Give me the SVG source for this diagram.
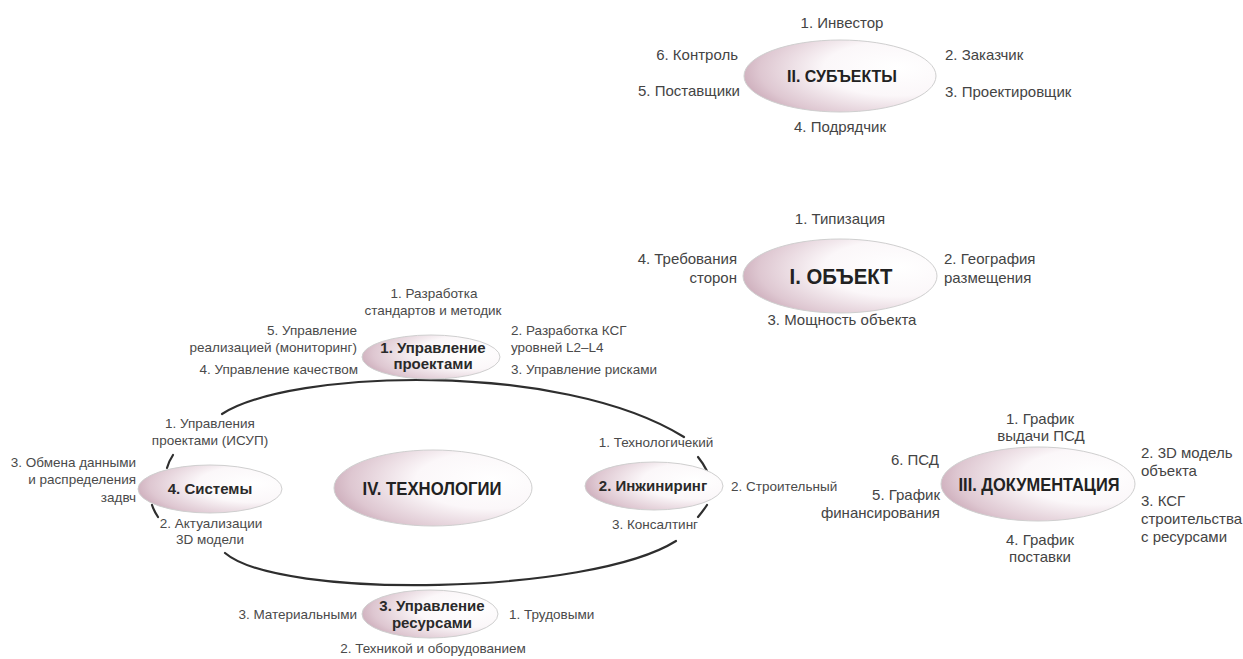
<svg xmlns="http://www.w3.org/2000/svg" width="1243" height="659" viewBox="0 0 1243 659">
<defs>
<radialGradient id="eg" cx="0.78" cy="0.42" r="0.9" fx="0.8" fy="0.38">
<stop offset="0" stop-color="#ffffff"/>
<stop offset="0.42" stop-color="#fbf7f9"/>
<stop offset="0.78" stop-color="#dec7d1"/>
<stop offset="1" stop-color="#bf98a9"/>
</radialGradient>
</defs>
<style>
.bg{fill:#ffffff}
.el{fill:url(#eg);stroke:#cfcfcf;stroke-width:1}
.lb{font-family:"Liberation Sans",Arial,sans-serif;font-size:15px;fill:#444444}
.ls{font-family:"Liberation Sans",Arial,sans-serif;font-size:13.5px;fill:#4a4a4a}
.tt{font-family:"Liberation Sans",Arial,sans-serif;font-weight:bold;fill:#222222}
.st{font-family:"Liberation Sans",Arial,sans-serif;font-weight:bold;font-size:15px;fill:#2a2a2a}
.m{text-anchor:middle}
.e{text-anchor:end}
.ring{fill:none;stroke:#2e2e2e;stroke-width:2.2;stroke-linecap:round}
</style>
<rect class="bg" x="0" y="0" width="1243" height="659"/>

<g id="connectors">
<path class="ring" d="M 222 414 C 290 370, 560 360, 684 437"/>
<path class="ring" d="M 698 457 Q 703 463, 707 471"/>
<path class="ring" d="M 707 505 Q 703 511, 698 517"/>
<path class="ring" d="M 676 541 C 590 595, 280 600, 225 553"/>
<path class="ring" d="M 158 517 Q 154 511, 152 505"/>
<path class="ring" d="M 167 468 Q 169 461, 173 455"/>
</g>

<g id="node-subjects">
<ellipse class="el" cx="840" cy="76" rx="96" ry="36"/>
<text class="tt m" x="842" y="82" font-size="17" textLength="110" lengthAdjust="spacingAndGlyphs">II. СУБЪЕКТЫ</text>
<text class="lb m" x="842" y="28">1. Инвестор</text>
<text class="lb" x="945" y="60">2. Заказчик</text>
<text class="lb" x="945" y="97">3. Проектировщик</text>
<text class="lb m" x="840" y="132">4. Подрядчик</text>
<text class="lb e" x="740" y="96">5. Поставщики</text>
<text class="lb e" x="738" y="60">6. Контроль</text>
</g>

<g id="node-object">
<ellipse class="el" cx="840" cy="276" rx="97" ry="37"/>
<text class="tt m" x="841" y="284" font-size="22" textLength="103" lengthAdjust="spacingAndGlyphs">I. ОБЪЕКТ</text>
<text class="lb m" x="840" y="224">1. Типизация</text>
<text class="lb" x="944" y="264">2. География</text>
<text class="lb" x="944" y="283">размещения</text>
<text class="lb m" x="842" y="325">3. Мощность объекта</text>
<text class="lb e" x="737" y="264">4. Требования</text>
<text class="lb e" x="737" y="283">сторон</text>
</g>

<g id="node-documentation">
<ellipse class="el" cx="1038" cy="484" rx="97" ry="37"/>
<text class="tt m" x="1039" y="491" font-size="18" textLength="161" lengthAdjust="spacingAndGlyphs">III. ДОКУМЕНТАЦИЯ</text>
<text class="lb m" x="1040" y="424">1. График</text>
<text class="lb m" x="1041" y="441">выдачи ПСД</text>
<text class="lb" x="1141" y="458">2. 3D модель</text>
<text class="lb" x="1141" y="476">объекта</text>
<text class="lb" x="1141" y="506">3. КСГ</text>
<text class="lb" x="1141" y="524">строительства</text>
<text class="lb" x="1141" y="542">с ресурсами</text>
<text class="lb m" x="1040" y="545">4. График</text>
<text class="lb m" x="1040" y="562">поставки</text>
<text class="lb e" x="940" y="500">5. График</text>
<text class="lb e" x="940" y="518">финансирования</text>
<text class="lb e" x="939" y="465">6. ПСД</text>
</g>

<g id="node-technologies">
<ellipse class="el" cx="433" cy="488" rx="99" ry="38"/>
<text class="tt m" x="432" y="495" font-size="18" textLength="139" lengthAdjust="spacingAndGlyphs">IV. ТЕХНОЛОГИИ</text>
</g>

<g id="node-project-management">
<ellipse class="el" cx="431" cy="357" rx="69" ry="22"/>
<text class="st m" x="433" y="353">1. Управление</text>
<text class="st m" x="433" y="369">проектами</text>
<text class="ls m" x="434" y="298">1. Разработка</text>
<text class="ls m" x="433" y="315">стандартов и методик</text>
<text class="ls" x="511" y="335">2. Разработка КСГ</text>
<text class="ls" x="511" y="352">уровней L2–L4</text>
<text class="ls" x="511" y="374">3. Управление рисками</text>
<text class="ls e" x="358" y="374">4. Управление качеством</text>
<text class="ls e" x="357" y="335">5. Управление</text>
<text class="ls e" x="357" y="352">реализацией (мониторинг)</text>
</g>

<g id="node-engineering">
<ellipse class="el" cx="654" cy="486" rx="69" ry="24"/>
<text class="st m" x="653" y="491">2. Инжиниринг</text>
<text class="ls m" x="656" y="447">1. Технологичекий</text>
<text class="ls" x="731" y="491">2. Строительный</text>
<text class="ls m" x="655" y="529">3. Консалтинг</text>
</g>

<g id="node-resources">
<ellipse class="el" cx="430" cy="614" rx="68" ry="24"/>
<text class="st m" x="432" y="611">3. Управление</text>
<text class="st m" x="432" y="628">ресурсами</text>
<text class="ls" x="509" y="619">1. Трудовыми</text>
<text class="ls m" x="433" y="653">2. Техникой и оборудованием</text>
<text class="ls e" x="357" y="619">3. Материальными</text>
</g>

<g id="node-systems">
<ellipse class="el" cx="210" cy="489" rx="72" ry="24"/>
<text class="st m" x="210" y="494">4. Системы</text>
<text class="ls m" x="210" y="428">1. Управления</text>
<text class="ls m" x="210" y="445">проектами (ИСУП)</text>
<text class="ls m" x="211" y="528">2. Актуализации</text>
<text class="ls m" x="210" y="544">3D модели</text>
<text class="ls e" x="136" y="467">3. Обмена данными</text>
<text class="ls e" x="136" y="484">и распределения</text>
<text class="ls e" x="136" y="502">задвч</text>
</g>
</svg>
